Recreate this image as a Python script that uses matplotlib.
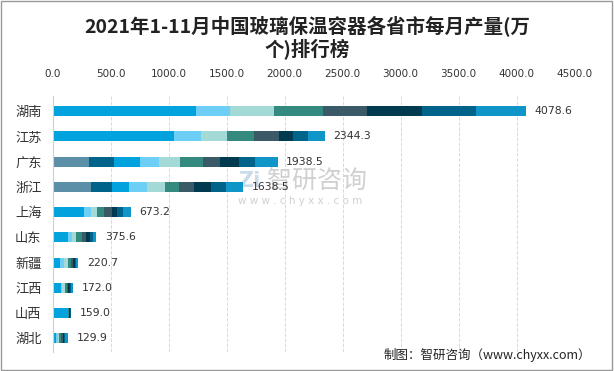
import numpy as np
import matplotlib
matplotlib.use('Agg')
import matplotlib.pyplot as plt
from matplotlib.patches import Rectangle

plt.rcParams['font.family'] = ['Noto Sans CJK SC', 'DejaVu Sans']

provinces = ['湖南', '江苏', '广东', '浙江', '上海', '山东', '新疆', '江西', '山西', '湖北']
totals = [4078.6, 2344.3, 1938.5, 1638.5, 673.2, 375.6, 220.7, 172.0, 159.0, 129.9]

# monthly segments per province, 10 series
monthly = {
    '湖南': [0, 0, 1235, 293, 380, 422, 382, 472, 465, 429.6],
    '江苏': [0, 0, 1046, 233, 224, 230, 218, 121, 129, 143.3],
    '广东': [313, 216, 224, 163, 181, 199, 146, 164, 138, 194.5],
    '浙江': [330, 181, 147, 155, 155, 121, 129, 147, 129, 144.5],
    '上海': [0, 0, 270, 60, 52, 60, 69, 43, 52, 67.2],
    '山东': [0, 0, 132, 34, 34, 52, 35, 34, 26, 28.6],
    '新疆': [0, 0, 63, 34, 35, 26, 17, 17, 8, 20.7],
    '江西': [0, 0, 72, 11, 23, 14, 12, 17, 9, 14.0],
    '山西': [0, 0, 130, 3, 3, 4, 5, 5, 4, 5.0],
    '湖北': [0, 0, 28, 18, 8, 18, 17, 8, 9, 23.9],
}

colors = ['#5b8fa8', '#00638a', '#00a3dd', '#6ecff6', '#a3d9d6',
          '#358a7f', '#3a5a68', '#003a50', '#006389', '#0f95c8']

xticks = [0, 500, 1000, 1500, 2000, 2500, 3000, 3500, 4000, 4500]

fig = plt.figure(figsize=(6.14, 3.71), dpi=100)
ax = fig.add_axes([0.0858, 0.051, 0.850, 0.690])
ax.patch.set_alpha(0)

y = np.arange(len(provinces))
data = np.array([monthly[p] for p in provinces])
left = np.zeros(len(provinces))
for k in range(data.shape[1]):
    ax.barh(y, data[:, k], left=left, height=0.4, color=colors[k], linewidth=0)
    left += data[:, k]

for yi, t in zip(y, totals):
    ax.text(t + 75, yi, f'{t:.1f}', va='center', ha='left', fontsize=7.8,
            color='#333333', family='DejaVu Sans')

ax.set_xlim(0, 4500)
ax.set_ylim(9.55, -0.6)
ax.set_xticks(xticks)
ax.set_xticklabels([f'{v:.1f}' for v in xticks], fontsize=7.5, color='#333333',
                   family='DejaVu Sans')
ax.xaxis.tick_top()
ax.tick_params(axis='x', length=0, pad=12)
ax.set_yticks(y)
ax.set_yticklabels(provinces, fontsize=9.5, color='#333333')
ax.tick_params(axis='y', length=0, pad=8)
ax.grid(axis='x', color='#d9d9d9', linestyle='--', linewidth=0.7)
ax.set_axisbelow(True)
for s in ['top', 'right', 'bottom']:
    ax.spines[s].set_visible(False)
ax.spines['left'].set_color('#d0d0d0')

fig.text(0.5, 0.96, '2021年1-11月中国玻璃保温容器各省市每月产量(万\n个)排行榜',
         ha='center', va='top', fontsize=14, fontweight='bold', color='#222222',
         linespacing=1.2)

# watermark (behind the plot)
fig.text(0.388, 0.512, 'Zi', fontsize=15, color='#c9dbe8', fontweight='bold',
         ha='left', va='center', family='DejaVu Sans', zorder=-1)
fig.text(0.435, 0.512, '智研咨询', fontsize=18, color='#d0d0d0',
         ha='left', va='center', zorder=-1)
fig.text(0.388, 0.458, 'w w w . c h y x x . c o m', fontsize=7.5, color='#d0d0d0',
         ha='left', va='center', family='DejaVu Sans', zorder=-1)

fig.text(0.963, 0.043, '制图：智研咨询（www.chyxx.com）', ha='right', va='center',
         fontsize=9, color='#222222')

fig.patches.append(Rectangle((0.002, 0.003), 0.995, 0.994, transform=fig.transFigure,
                             fill=False, edgecolor='#999999', linewidth=1))

fig.savefig('out.png', dpi=100)
